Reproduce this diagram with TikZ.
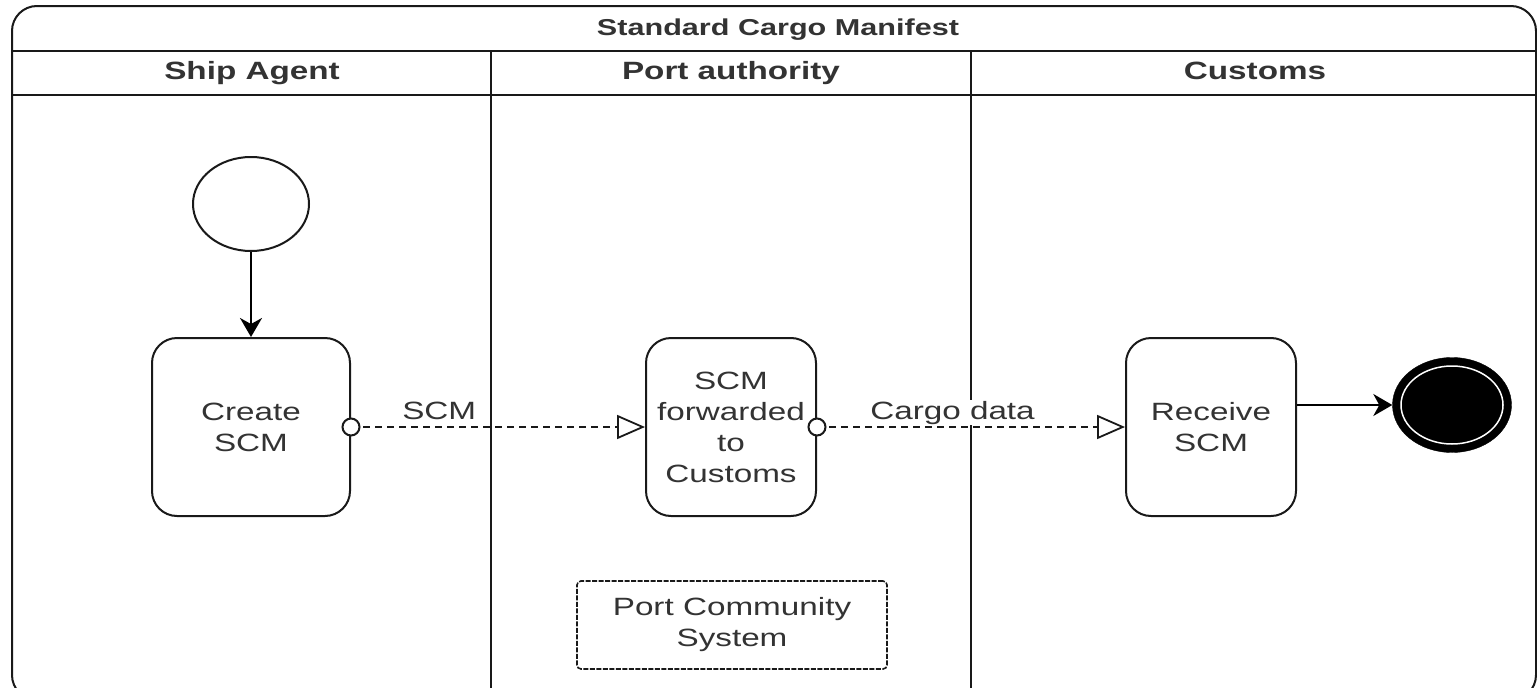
\documentclass[tikz,border=0pt]{standalone}
\usepackage{fontspec}
\setmainfont{Liberation Sans}[FakeStretch=1.33]
\usetikzlibrary{arrows.meta,shapes.geometric}
\definecolor{txt}{HTML}{333333}
\tikzset{
  lane/.style={line width=2pt, draw=black!90},
  task/.style={draw=black!90, line width=2pt, rounded corners=25pt, fill=white,
    minimum width=170pt, minimum height=178pt, align=center, inner sep=0pt,
    text=txt, font=\fontsize{25}{31}\selectfont},
  hdr/.style={font=\bfseries\fontsize{25}{30}\selectfont, text=txt, text height=18pt, text depth=5pt},
  ttl/.style={font=\bfseries\fontsize{23}{28}\selectfont, text=txt, text height=17pt, text depth=5pt},
  lbl/.style={font=\fontsize{25}{30}\selectfont, text=txt, fill=white, inner sep=1pt, text height=18pt, text depth=5pt},
  msg/.style={line width=1.5pt, dash pattern=on 7pt off 5pt, draw=black!90,
    -{Triangle[open, length=28pt, width=24pt, line width=1.8pt]}},
  flow/.style={line width=2pt, draw=black, -{Stealth[length=19pt, width=22pt, inset=6pt]}},
  port/.style={line width=2pt, fill=white, draw=black!90},
}
\begin{document}
\begin{tikzpicture}[x=1pt,y=-1pt]
\useasboundingbox (0,0) rectangle (1537,688);
\clip (0,0) rectangle (1537,688);
% pool frame
\draw[lane, rounded corners=25pt, fill=white] (12,6) rectangle (1536,700);
\draw[lane] (12,51) -- (1537,51);
\draw[lane] (12,95) -- (1537,95);
\draw[lane] (491,51) -- (491,700);
\draw[lane] (971,51) -- (971,700);
\node[ttl] (title) at (778,29) {Standard Cargo Manifest};
\node[hdr] (h1) at (252,73) {Ship Agent};
\node[hdr] (h2) at (731,73) {Port authority};
\node[hdr] (h3) at (1255,73) {Customs};
% nodes
\node[ellipse, draw=black!90, line width=2pt, minimum width=116pt, minimum height=94pt, inner sep=0pt] (start) at (251,204) {};
\node[task, minimum width=198pt] (create) at (251,427) {Create\\SCM};
\node[task] (fwd) at (731,427) {SCM\\forwarded\\to\\Customs};
\node[task] (recv) at (1211,427) {Receive\\SCM};
\node[ellipse, fill=black, draw=black, minimum width=119pt, minimum height=95pt, inner sep=0pt] (end) at (1452,405) {};
\draw[white, line width=1.5pt] (end.center) ellipse (51pt and 39pt);
\node[task, rounded corners=4pt, minimum width=310pt, minimum height=88pt, line width=1.6pt, dash pattern=on 5pt off 1.5pt] (pcs) at (732,625) {Port Community\\System};
% connectors
\draw[flow] (start) -- (create);
\draw[flow] (recv.east |- end.west) -- (end.west);
\draw[msg] (create.east) -- node[lbl, above=1pt, pos=0.3] (l1) {SCM} (fwd.west);
\draw[msg] (fwd.east) -- node[lbl, above=1pt, pos=0.44] (l2) {Cargo data} (recv.west);
\draw[port] (create.east) circle (8.5pt);
\draw[port] (fwd.east) circle (8.5pt);
\end{tikzpicture}
\end{document}
